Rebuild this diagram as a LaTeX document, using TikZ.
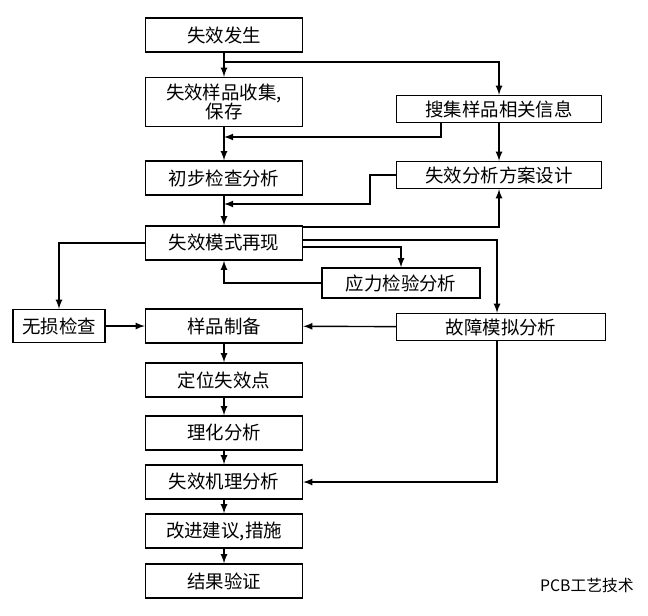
\documentclass[tikz,border=0pt]{standalone}
\usepackage{fontspec}
\setmainfont{Noto Sans CJK SC}
\usetikzlibrary{arrows}
\tikzset{
  box/.style={draw, thick, rectangle, inner sep=1pt, align=center,
    font=\fontsize{10.5}{11}\selectfont},
  wide/.style={box, minimum width=3.14cm, minimum height=0.68cm},
  side/.style={box, minimum width=4.1cm, minimum height=0.54cm},
  link/.style={thick, -latex}
}
\begin{document}
\begin{tikzpicture}[x=0.02cm, y=-0.02cm]
 \useasboundingbox (0,0) rectangle (648,615);

 % main column
 \node[wide] (occur) at (224,35) {失效发生};
 \node[wide, minimum height=0.98cm] (collect) at (224,102) {失效样品收集,\\保存};
 \node[wide] (prelim) at (224,178) {初步检查分析};
 \node[wide] (mode) at (224,243) {失效模式再现};
 \node[wide] (prep) at (224,326) {样品制备};
 \node[wide] (locate) at (224,380) {定位失效点};
 \node[wide] (phys) at (224,433) {理化分析};
 \node[wide] (mech) at (224,482) {失效机理分析};
 \node[wide] (improve) at (224,531) {改进建议,措施};
 \node[wide] (result) at (224,581) {结果验证};

 % side boxes
 \node[side] (search) at (499,109) {搜集样品相关信息};
 \node[side] (plan) at (499,175) {失效分析方案设计};
 \node[box, minimum width=3.16cm, minimum height=0.6cm] (stress) at (401,283) {应力检验分析};
 \node[box, minimum width=1.84cm, minimum height=0.66cm] (ndt) at (59,326) {无损检查};
 \node[side, minimum width=4.18cm] (fault) at (501,327) {故障模拟分析};

 % column arrows
 \foreach \a/\b in {occur/collect, collect/prelim, prelim/mode, prep/locate,
   locate/phys, phys/mech, mech/improve, improve/result}
   \draw[link] (\a) -- (\b);

 \coordinate (split) at (224,62);
 \draw[link] (split) -| (search.north);
 \coordinate (join1) at (224,137);
 \draw[link] ([xshift=-1.16cm]search.south) |- (join1);
 \draw[link] (search) -- (plan);
 \coordinate (join2) at (224,204);
 \draw[link] (plan.west) -- (370,175) |- (join2);

 % from mode
 \draw[link] ([yshift=0.32cm]mode.east) -| (plan.south);
 \draw[link] ([yshift=0.06cm]mode.east) -| ([xshift=-0.08cm]fault.north);
 \draw[link] ([yshift=-0.08cm]mode.east) -| (stress.north);
 \draw[link] (stress.west) -| (mode.south);
 \draw[link] (mode.west) -| (ndt.north);
 \draw[link] (ndt) -- (prep);
 \draw[link] (fault) -- (prep);
 \draw[link] ([xshift=-0.08cm]fault.south) |- (mech.east);

 % watermark
 \node[font=\fontsize{9}{10}\selectfont, anchor=east] (mark) at (640,585) {PCB工艺技术};
\end{tikzpicture}
\end{document}
